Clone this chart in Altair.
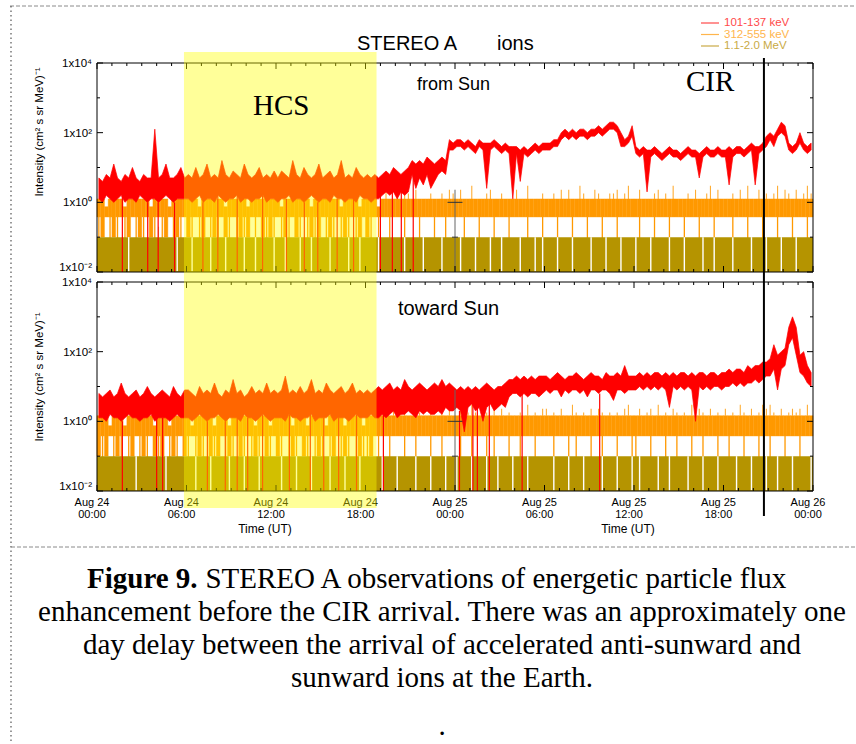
import altair as alt
import pandas as pd

# ---------------- data ----------------
# time axis: hours after Aug 24 00:00 UT, 15-minute bins (192 per panel)
BIN = 0.25

# red 101-137 keV : per-bin low / high envelope, in tenths of log10(intensity)
red_top_hi = [7,6,8,7,11,7,6,8,7,10,7,6,8,7,7,21,7,8,11,7,7,8,10,7,
              8,7,10,7,8,11,7,8,7,12,8,7,9,8,7,11,8,7,8,10,7,8,7,9,
              7,9,8,7,12,8,7,10,8,7,8,11,7,8,9,7,8,12,7,8,7,10,8,7,
              8,7,8,7,8,9,8,10,9,8,9,10,12,11,12,11,13,12,11,12,13,12,18,17,
              18,18,17,18,17,16,18,17,17,17,18,17,16,17,16,16,16,15,16,15,16,17,16,17,
              17,17,18,18,20,21,20,21,20,21,21,20,21,21,22,21,22,23,23,22,20,18,19,22,
              16,15,16,15,15,16,15,14,15,16,15,15,14,15,16,15,15,14,15,16,15,15,16,15,
              15,16,15,16,16,15,16,17,16,16,17,19,20,19,21,23,22,17,16,17,20,17,16,17]
red_top_lo = [1,0,2,1,0,1,2,0,1,1,0,2,1,0,1,1,0,1,2,1,0,1,1,1,
              1,0,1,2,0,1,1,0,2,1,0,1,1,2,0,1,1,0,1,1,2,0,1,1,
              0,1,1,2,0,1,1,0,1,2,1,0,1,1,0,2,1,1,0,1,1,0,2,1,
              1,0,1,1,2,3,2,3,1,3,2,3,8,4,7,5,8,4,6,8,9,8,15,15,
              16,16,15,16,15,14,16,15,4,15,16,15,14,15,14,1,14,6,14,13,14,15,14,15,
              15,15,16,16,18,19,18,19,18,19,19,18,19,19,20,19,20,21,21,20,16,16,17,19,
              14,13,14,3,13,14,13,12,13,14,13,13,12,13,14,13,13,7,13,14,13,13,14,13,
              13,5,13,14,14,13,14,15,5,14,15,16,18,16,19,20,19,15,14,15,17,15,14,15]
red_bot_hi = [8,7,8,9,7,8,11,8,7,8,9,7,8,10,8,7,8,9,8,7,10,8,7,9,
              9,8,7,10,8,9,8,11,8,7,9,8,12,8,9,7,8,10,8,9,8,11,8,9,
              8,9,13,8,9,8,10,8,9,12,8,9,8,11,9,8,9,10,8,9,11,8,9,8,
              9,8,9,10,9,10,11,9,10,9,12,10,9,10,11,10,9,10,11,10,12,10,11,10,
              9,10,9,10,9,10,9,10,11,10,9,10,10,11,12,12,13,12,13,12,13,12,13,13,
              13,12,13,14,13,12,13,13,14,13,12,13,14,13,13,12,14,13,13,14,13,16,13,13,
              13,14,13,14,13,14,14,13,14,13,14,13,14,14,13,14,13,14,14,13,14,14,13,14,
              14,15,14,15,15,14,16,15,16,16,17,17,18,22,19,20,21,27,30,27,19,20,16,14]
red_bot_lo = [1,1,0,2,1,1,0,1,2,1,1,0,1,1,2,0,1,1,1,0,1,2,1,1,
              1,0,1,2,1,0,1,1,2,1,0,1,1,1,0,2,1,1,0,1,2,1,0,1,
              1,1,0,2,1,1,0,1,1,2,0,1,1,1,2,0,1,1,1,0,1,2,1,1,
              1,2,1,1,2,1,2,3,1,2,2,3,2,1,3,2,3,2,2,3,2,4,3,3,
              4,3,-3,4,5,3,4,0,4,5,3,4,5,4,7,8,8,7,8,7,8,8,7,8,
              9,8,9,9,7,9,8,9,9,8,9,7,9,9,8,9,9,8,6,9,9,8,9,9,
              9,10,9,10,9,10,9,10,9,4,10,9,10,9,10,9,0,10,9,10,9,10,10,9,
              10,10,11,10,11,10,11,11,12,11,12,13,13,15,9,15,16,22,24,19,14,13,11,10]
# hours where the red channel drops to the bottom of the panel
red_top_drops = [1.7, 3.4, 4.1, 5.2, 7.1, 8.1, 9.4, 11.1, 12.7, 13.9, 14.8,
                 16.1, 17.2, 19.0, 19.8, 20.4, 21.2]
red_bot_drops = [1.7, 4.0, 4.4, 7.4, 8.6, 9.4, 10.1, 11.1, 12.9, 14.3, 15.2,
                 16.2, 17.4, 19.2, 24.3, 25.2, 25.5, 26.3, 28.5, 33.7]

# orange 312-555 keV : per-bin level codes (high / low envelope); low "0" = drop to bottom
orange_levels = {"0": 0.38, "1": 0.1, "2": 0.38, "3": 0.75, "5": 1.8, "6": 2.3, "7": 3.0}
orange_band_top = {"top": 1.25, "bottom": 1.45}     # level "4"
orange_top_hi = "".join([
    "443444", "434464", "443444", "434444", "444344", "474434", "444434", "446444",
    "434445", "444344", "464443", "444434", "444346", "445475", "464445", "445465",
    "464474", "445644", "544464", "474445", "445464", "644754", "465445", "564574",
    "464445", "645474", "445464", "457464", "445464", "744645", "457465", "464575"])
orange_top_lo = "".join([
    "012010", "201201", "021020", "120102", "102012", "010210", "201012", "021010",
    "201021", "020101", "201020", "102012", "102022", "022202", "220222", "022022",
    "220222", "022202", "220222", "202220", "222022", "202220", "222022", "202222",
    "202220", "222022", "202220", "222022", "220222", "022202", "220222", "022202"])
orange_bot_hi = "".join([
    "444344", "434445", "444344", "434444", "434444", "634443", "444464", "344434",
    "444634", "443444", "436444", "344443", "444464", "464754", "465446", "445474",
    "464575", "445464", "645445", "474546", "645464", "475454", "646545", "454674",
    "464564", "745465", "454746", "546454", "645475", "464576", "754645", "656474"])
orange_bot_lo = "".join([
    "101201", "020120", "102101", "201021", "020102", "101201", "021020", "102102",
    "102010", "210201", "020120", "102010", "012022", "022202", "202220", "220222",
    "202202", "220202", "220220", "222022", "220222", "020222", "022022", "202220",
    "022202", "220220", "222022", "022202", "202220", "222022", "022202", "220222"])

# olive 1.1-2.0 MeV : per-bin codes (0 = empty, 1 = up to 0.1, 2 = spike to 0.2)
OLIVE_TOP_LEVEL, OLIVE_SPIKE = 0.1, 0.2
olive_top = "".join([
    "111111", "110111", "111121", "111011", "101111", "011101", "111011", "011110",
    "110111", "011011", "110111", "101101", "111011", "111101", "111011", "110111",
    "101110", "111011", "011110", "111010", "111011", "101111", "011101", "110111",
    "011101", "111011", "101111", "011011", "110111", "101110", "111011", "101111"])
olive_bot = "".join([
    "111111", "111101", "111111", "011111", "110111", "011110", "111011", "101111",
    "101110", "111011", "110111", "011101", "111101", "110111", "101110", "111011",
    "011101", "110110", "111011", "101111", "110111", "011101", "111011", "101110",
    "101111", "011011", "110111", "011101", "111011", "101110", "110111", "011110"])

hcs_start, hcs_end = 5.83, 18.74
cir_time = 44.71
tick_hours = list(range(0, 49))
x_label_hours = [0, 6, 12, 18, 24, 30, 36, 42, 48]
x_label_text = ["Aug 24\n00:00", "Aug 24\n06:00", "Aug 24\n12:00", "Aug 24\n18:00",
                "Aug 25\n00:00", "Aug 25\n06:00", "Aug 25\n12:00", "Aug 25\n18:00",
                "Aug 26\n00:00"]
decades = [0.01, 0.1, 1, 10, 100, 1000, 10000]
labeled_decades = [0.01, 1, 100, 10000]
y_label_text = ["1x10\u207b\u00b2", "1x10\u2070", "1x10\u00b2", "1x10\u2074"]
legend_labels = ["101-137 keV", "312-555 keV", "1.1-2.0 MeV"]

# ---------------- styling ----------------
RED, ORANGE, OLIVE = "#FF0000", "#FF9900", "#B59400"
OLIVE_LIGHT = "#CDBA5A"
LEG_COLORS = ["#FF4A4A", "#FFB54D", "#C9AA45"]
SANS, SERIF = "Liberation Sans", "Liberation Serif"
W, H = 716, 428
TOP_RANGE, BOT_RANGE = [209, 0], [428, 219]

xscale = alt.Scale(domain=[0, 48], nice=False, zero=False)
one = pd.DataFrame({"k": [0]})


def tbl_red(lo, hi):
    t = [i * BIN + BIN / 2 for i in range(len(hi))]
    return pd.DataFrame({"t": t,
                         "lo": [10 ** (v / 10) for v in lo],
                         "hi": [10 ** (v / 10) for v in hi]})


def tbl_orange(lo, hi, band_top):
    levels = dict(orange_levels, **{"4": band_top})
    band, spikes, drops = [], [], []
    for i, (a, b) in enumerate(zip(lo, hi)):
        t = i * BIN
        l, h = levels[a], levels[b]
        top = min(h, band_top)
        band.append({"t": t, "t2": t + BIN, "lo": min(l, top), "hi": max(l, top)})
        if h > band_top:
            spikes.append({"t": t + BIN / 2, "lo": band_top, "hi": h})
        if a == "0":
            drops.append({"t": t + BIN / 2, "lo": 0.01, "hi": l})
    return pd.DataFrame(band), pd.DataFrame(spikes), pd.DataFrame(drops)


def tbl_olive(codes):
    band = pd.DataFrame({"t": [0.0], "t2": [48.0], "lo": [0.01], "hi": [OLIVE_TOP_LEVEL]})
    gaps = pd.DataFrame([{"t": i * BIN + BIN / 2, "lo": 0.0105, "hi": OLIVE_TOP_LEVEL}
                         for i, c in enumerate(codes) if c == "0"])
    spikes = pd.DataFrame([{"t": i * BIN + BIN / 2, "lo": OLIVE_TOP_LEVEL, "hi": OLIVE_SPIKE}
                           for i, c in enumerate(codes) if c == "2"])
    return band, gaps, spikes


def tbl_drops(hours, lo):
    return pd.DataFrame({"t": hours, "lo": [0.01] * len(hours),
                         "hi": [10 ** (lo[min(int(h / BIN), len(lo) - 1)] / 10) for h in hours]})


def X(f):
    return alt.X(f, type="quantitative", scale=xscale, axis=None)


def pix_line(x1, y1, x2, y2, color="black", width=1.0, dash=None):
    kw = dict(color=color, strokeWidth=width)
    if dash:
        kw["strokeDash"] = dash
    return alt.Chart(one).mark_rule(**kw).encode(
        x=alt.value(x1), x2=alt.value(x2), y=alt.value(y1), y2=alt.value(y2))


def label(text, x, y, size, color="black", font=SANS, align="left",
          baseline="alphabetic", angle=0, weight="normal"):
    kw = dict(text=text, fontSize=size, color=color, font=font, align=align,
              baseline=baseline, fontWeight=weight)
    if angle:
        kw["angle"] = angle
    return alt.Chart(one).mark_text(**kw).encode(x=alt.value(x), y=alt.value(y))


def panel(rng, band_top, olive_codes, or_lo, or_hi, r_lo, r_hi, drops, cross_top,
          with_x_labels):
    ys = alt.Scale(type="log", domain=[0.01, 10000], range=rng, nice=False)
    top_px, bot_px = rng[1], rng[0]

    def Y(f):
        return alt.Y(f, type="quantitative", scale=ys, axis=None)

    layers = []
    o_band, o_spk, o_drp = tbl_orange(or_lo, or_hi, band_top)
    layers.append(alt.Chart(o_band).mark_rect(
        color=ORANGE, stroke=ORANGE, strokeWidth=0.4).encode(
        x=X("t"), x2="t2", y=Y("lo"), y2="hi"))
    layers.append(alt.Chart(o_spk).mark_rule(color=ORANGE, strokeWidth=1.1, opacity=0.8).encode(
        x=X("t"), y=Y("lo"), y2="hi"))
    layers.append(alt.Chart(o_drp).mark_rule(color=ORANGE, strokeWidth=1.3).encode(
        x=X("t"), y=Y("lo"), y2="hi"))

    ol_band, ol_gap, ol_spk = tbl_olive(olive_codes)
    layers.append(alt.Chart(ol_band).mark_rect(color=OLIVE).encode(
        x=X("t"), x2="t2", y=Y("lo"), y2="hi"))
    layers.append(alt.Chart(ol_gap).mark_rule(color="white", strokeWidth=1.4).encode(
        x=X("t"), y=Y("lo"), y2="hi"))
    layers.append(alt.Chart(ol_spk).mark_rule(color=OLIVE_LIGHT, strokeWidth=1.1).encode(
        x=X("t"), y=Y("lo"), y2="hi"))

    layers.append(alt.Chart(tbl_red(r_lo, r_hi)).mark_area(
        color=RED, stroke=RED, strokeWidth=0.7, interpolate="linear").encode(
        x=X("t"), y=Y("lo"), y2="hi"))
    layers.append(alt.Chart(tbl_drops(drops, r_lo)).mark_rule(
        color=RED, strokeWidth=1.2).encode(x=X("t"), y=Y("lo"), y2="hi"))

    # small grey marker at Aug 25 00:00
    cross = pd.DataFrame({"t": [24.0], "lo": [0.01], "hi": [cross_top]})
    layers.append(alt.Chart(cross).mark_rule(color="#666666", strokeWidth=1).encode(
        x=X("t"), y=Y("lo"), y2="hi"))
    cross_ticks = pd.DataFrame({"t": [23.5, 23.8], "t2": [24.5, 24.2], "v": [1.0, 0.1]})
    layers.append(alt.Chart(cross_ticks).mark_rule(color="#333333", strokeWidth=1).encode(
        x=X("t"), x2="t2", y=Y("v")))

    # frame
    layers.append(alt.Chart(one).mark_rect(fillOpacity=0, stroke="black", strokeWidth=1).encode(
        x=alt.value(0), x2=alt.value(W), y=alt.value(top_px), y2=alt.value(bot_px)))

    # y ticks (inward, both sides) and labels
    maj = pd.DataFrame({"v": labeled_decades, "txt": y_label_text})
    mnr = pd.DataFrame({"v": [d for d in decades if d not in labeled_decades]})
    layers.append(alt.Chart(maj).mark_rule(color="black").encode(
        y=Y("v"), x=alt.value(0), x2=alt.value(6)))
    layers.append(alt.Chart(mnr).mark_rule(color="black").encode(
        y=Y("v"), x=alt.value(0), x2=alt.value(3)))
    layers.append(alt.Chart(maj).mark_rule(color="black").encode(
        y=Y("v"), x=alt.value(W - 6), x2=alt.value(W)))
    layers.append(alt.Chart(mnr).mark_rule(color="black").encode(
        y=Y("v"), x=alt.value(W - 3), x2=alt.value(W)))
    layers.append(alt.Chart(maj[maj.v > 0.05]).mark_text(
        align="right", baseline="middle", font=SANS, fontSize=11.5, color="black", dy=1).encode(
        y=Y("v"), x=alt.value(-5), text="txt:N"))
    layers.append(alt.Chart(maj[maj.v < 0.05]).mark_text(
        align="right", baseline="alphabetic", font=SANS, fontSize=11.5, color="black", dy=-1).encode(
        y=Y("v"), x=alt.value(-5), text="txt:N"))

    # x ticks (inward, top and bottom edges)
    xmaj = pd.DataFrame({"h": [h for h in tick_hours if h % 6 == 0]})
    xmin = pd.DataFrame({"h": [h for h in tick_hours if h % 6 != 0]})
    layers.append(alt.Chart(xmaj).mark_rule(color="black").encode(
        x=X("h"), y=alt.value(bot_px), y2=alt.value(bot_px - 6)))
    layers.append(alt.Chart(xmin).mark_rule(color="black").encode(
        x=X("h"), y=alt.value(bot_px), y2=alt.value(bot_px - 3)))
    layers.append(alt.Chart(xmaj).mark_rule(color="black").encode(
        x=X("h"), y=alt.value(top_px), y2=alt.value(top_px + 6)))
    layers.append(alt.Chart(xmin).mark_rule(color="black").encode(
        x=X("h"), y=alt.value(top_px), y2=alt.value(top_px + 3)))
    if with_x_labels:
        xl = pd.DataFrame({"h": x_label_hours, "txt": x_label_text})
        layers.append(alt.Chart(xl).mark_text(
            align="center", baseline="top", lineBreak="\n", lineHeight=11.5,
            font=SANS, fontSize=11, color="black", dx=-5).encode(
            x=X("h"), y=alt.value(bot_px + 6), text="txt:N"))
    return alt.layer(*layers)


top_panel = panel(TOP_RANGE, orange_band_top["top"], olive_top, orange_top_lo, orange_top_hi,
                  red_top_lo, red_top_hi, red_top_drops, 2.3, False)
bot_panel = panel(BOT_RANGE, orange_band_top["bottom"], olive_bot, orange_bot_lo, orange_bot_hi,
                  red_bot_lo, red_bot_hi, red_bot_drops, 8.0, True)

hcs = alt.Chart(one).mark_rect(color="#FFFF00", opacity=0.4).encode(
    x=alt.X(datum=hcs_start, type="quantitative", scale=xscale, axis=None),
    x2=alt.X2(datum=hcs_end), y=alt.value(-11), y2=alt.value(445))
cir = alt.Chart(one).mark_rule(color="black", strokeWidth=2).encode(
    x=alt.X(datum=cir_time, type="quantitative", scale=xscale, axis=None),
    y=alt.value(-5), y2=alt.value(453))

texts = [
    label("STEREO A", 260, -13, 20),
    label("ions", 400, -13, 20),
    label("from Sun", 320, 27, 18),
    label("toward Sun", 301, 252, 20),
    label("HCS", 156, 52, 29, font=SERIF),
    label("CIR", 589, 28, 29, font=SERIF),
    label("Intensity (cm\u00b2 s sr MeV)\u207b\u00b9", -57, 69, 11.5, align="center",
          baseline="middle", angle=270),
    label("Intensity (cm\u00b2 s sr MeV)\u207b\u00b9", -57, 314, 11.5, align="center",
          baseline="middle", angle=270),
    label("Time (UT)", 168, 466, 12, align="center", baseline="middle"),
    label("Time (UT)", 531, 466, 12, align="center", baseline="middle"),
]
legend = []
for i, (txt, col) in enumerate(zip(legend_labels, LEG_COLORS)):
    yy = -40 + i * 11.5
    legend.append(pix_line(604, yy, 622, yy, color=col, width=1.2))
    legend.append(label(txt, 627, yy, 11.5, color=col, baseline="middle"))

CAP = 29
CAP_X0 = -10
caption = [
    label("Figure 9.", CAP_X0, 525, CAP, font=SERIF, weight="bold"),
    label("STEREO A observations of energetic particle flux", CAP_X0 + 4.083 * CAP, 525, CAP,
          font=SERIF),
    label("enhancement before the CIR arrival. There was an approximately one", 345, 558,
          CAP, font=SERIF, align="center"),
    label("day delay between the arrival of accelerated anti-sunward and", 345, 591, CAP,
          font=SERIF, align="center"),
    label("sunward ions at the Earth.", 345, 624, CAP, font=SERIF, align="center"),
    label(".", 345, 672, CAP, font=SERIF, align="center"),
]
borders = [
    pix_line(-87, -57, 759, -57, color="#8a8a8a", width=1, dash=[4, 2]),
    pix_line(-86, -57, -86, 681, color="#555555", width=1.2, dash=[1.5, 3]),
    pix_line(-86, 484, 759, 484, color="#8a8a8a", width=1, dash=[4, 2]),
]

chart = alt.layer(
    top_panel, bot_panel, hcs, *texts, *legend, cir, *caption, *borders
).resolve_scale(y="independent").properties(
    width=W, height=H,
    autosize=alt.AutoSizeParams(type="none"),
    padding={"left": 97, "top": 63, "right": 43, "bottom": 253},
    background="white",
).configure_view(stroke=None)

chart.save("out.html", embed_options={"renderer": "svg", "actions": False})
